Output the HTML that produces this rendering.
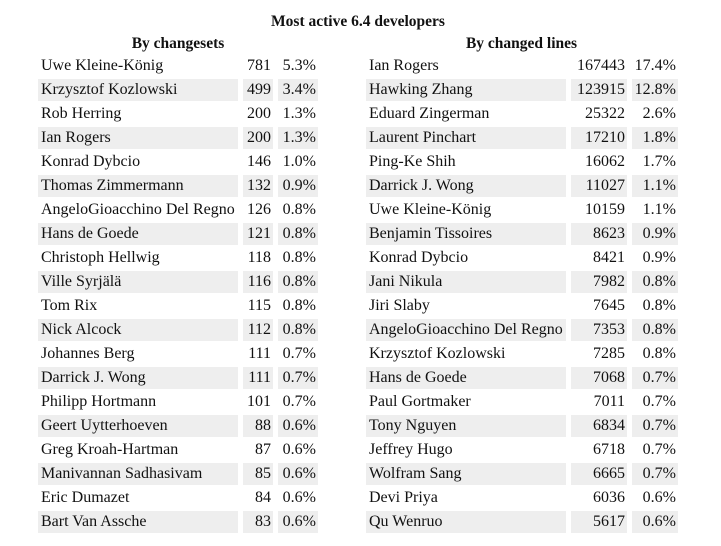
<!DOCTYPE html>
<html><head><meta charset="utf-8"><style>
body{margin:0;width:721px;height:546px;background:#fff;font-family:"Liberation Serif",serif;font-size:16px;color:#111;position:relative;overflow:hidden}
.t{position:absolute;font-weight:bold;text-align:center;font-size:15.5px}
.c{position:absolute;height:22px;line-height:22px;box-sizing:border-box;padding:0 3px;white-space:nowrap;overflow:visible}
.g{background:#eee}
.r{text-align:right;padding:0 2px}
</style></head><body>
<div class="t" style="left:0;width:716px;top:13px">Most active 6.4 developers</div>
<div class="t" style="left:38px;width:280px;top:35px">By changesets</div>
<div class="t" style="left:366px;width:311px;top:35px">By changed lines</div>
<div id="x"></div>
<script>
var L=[["Uwe Kleine-König",781,"5.3%"],["Krzysztof Kozlowski",499,"3.4%"],["Rob Herring",200,"1.3%"],["Ian Rogers",200,"1.3%"],["Konrad Dybcio",146,"1.0%"],["Thomas Zimmermann",132,"0.9%"],["AngeloGioacchino Del Regno",126,"0.8%"],["Hans de Goede",121,"0.8%"],["Christoph Hellwig",118,"0.8%"],["Ville Syrjälä",116,"0.8%"],["Tom Rix",115,"0.8%"],["Nick Alcock",112,"0.8%"],["Johannes Berg",111,"0.7%"],["Darrick J. Wong",111,"0.7%"],["Philipp Hortmann",101,"0.7%"],["Geert Uytterhoeven",88,"0.6%"],["Greg Kroah-Hartman",87,"0.6%"],["Manivannan Sadhasivam",85,"0.6%"],["Eric Dumazet",84,"0.6%"],["Bart Van Assche",83,"0.6%"]];
var R=[["Ian Rogers",167443,"17.4%"],["Hawking Zhang",123915,"12.8%"],["Eduard Zingerman",25322,"2.6%"],["Laurent Pinchart",17210,"1.8%"],["Ping-Ke Shih",16062,"1.7%"],["Darrick J. Wong",11027,"1.1%"],["Uwe Kleine-König",10159,"1.1%"],["Benjamin Tissoires",8623,"0.9%"],["Konrad Dybcio",8421,"0.9%"],["Jani Nikula",7982,"0.8%"],["Jiri Slaby",7645,"0.8%"],["AngeloGioacchino Del Regno",7353,"0.8%"],["Krzysztof Kozlowski",7285,"0.8%"],["Hans de Goede",7068,"0.7%"],["Paul Gortmaker",7011,"0.7%"],["Tony Nguyen",6834,"0.7%"],["Jeffrey Hugo",6718,"0.7%"],["Wolfram Sang",6665,"0.7%"],["Devi Priya",6036,"0.6%"],["Qu Wenruo",5617,"0.6%"]];
var h="";
function add(d,cols){for(var i=0;i<d.length;i++){var y=55+24*i,g=i%2?" g":"";
h+='<div class="c'+g+'" style="left:'+cols[0]+'px;width:'+cols[1]+'px;top:'+y+'px">'+d[i][0]+'</div>';
h+='<div class="c r'+g+'" style="left:'+cols[2]+'px;width:'+cols[3]+'px;top:'+y+'px">'+d[i][1]+'</div>';
h+='<div class="c r'+g+'" style="left:'+cols[4]+'px;width:'+cols[5]+'px;top:'+y+'px">'+d[i][2]+'</div>';}}
add(L,[38,200,243,30,278,40]);
add(R,[366,200,571,56,632,46]);
document.getElementById("x").innerHTML=h;
</script>
</body></html>
